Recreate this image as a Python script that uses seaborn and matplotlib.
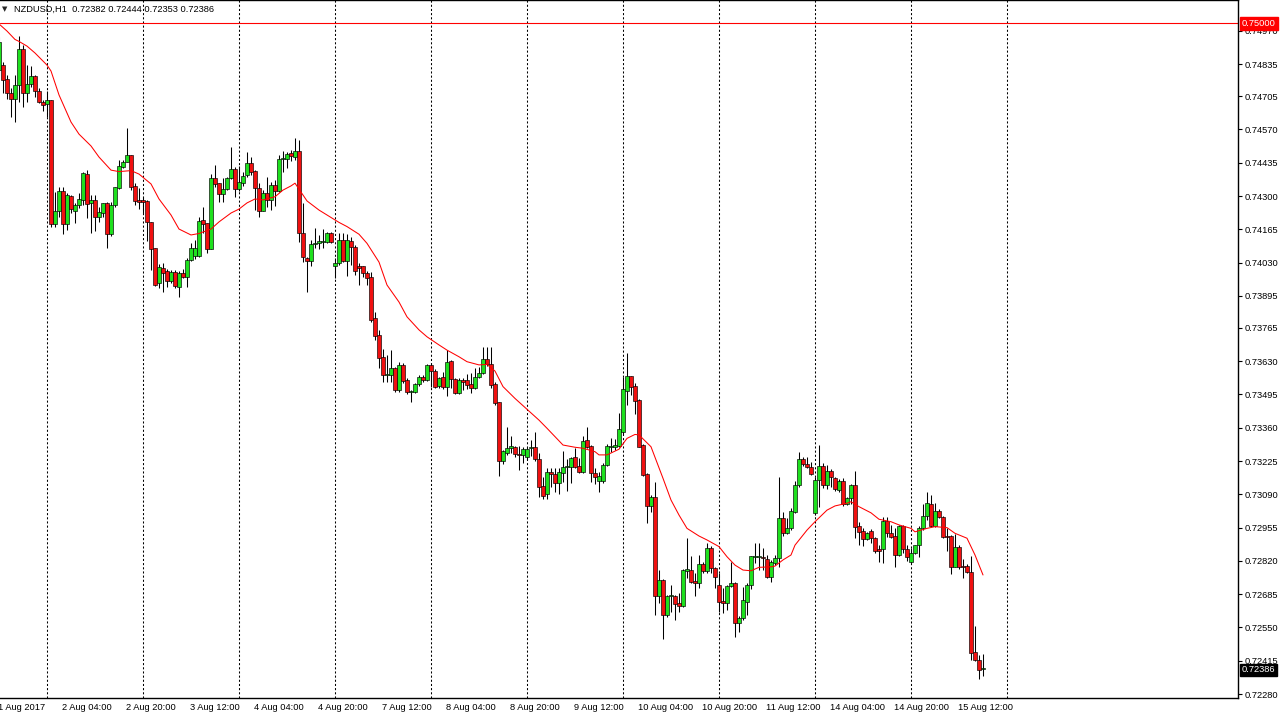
import numpy as np
import pandas as pd
import matplotlib
matplotlib.use("Agg")
import matplotlib.pyplot as plt
import matplotlib.transforms as mtransforms
import seaborn as sns

sns.set_style("white")
plt.rcParams['font.family'] = ['Liberation Sans', 'DejaVu Sans']

# NZDUSD H1 candles, one per bar (left to right)
opens = [
    0.74811, 0.74831, 0.74773, 0.74717, 0.74692, 0.74750, 0.74895, 0.74717, 0.74753, 0.74787,
    0.74727, 0.74681, 0.74672, 0.74689, 0.74186, 0.74240, 0.74319, 0.74186, 0.74300, 0.74240,
    0.74262, 0.74284, 0.74389, 0.74270, 0.74284, 0.74214, 0.74232, 0.74270, 0.74145, 0.74262,
    0.74331, 0.74419, 0.74439, 0.74466, 0.74341, 0.74284, 0.74283, 0.74280, 0.74193, 0.74088,
    0.73946, 0.74007, 0.73997, 0.73956, 0.73991, 0.73932, 0.73986, 0.73970, 0.74040, 0.74057,
    0.74057, 0.74203, 0.74189, 0.74086, 0.74372, 0.74352, 0.74308, 0.74327, 0.74372, 0.74408,
    0.74327, 0.74352, 0.74384, 0.74433, 0.74401, 0.74331, 0.74240, 0.74311, 0.74284, 0.74345,
    0.74320, 0.74449, 0.74450, 0.74474, 0.74459, 0.74483, 0.74149, 0.74047, 0.74038, 0.74104,
    0.74108, 0.74115, 0.74115, 0.74149, 0.74017, 0.74027, 0.74122, 0.74036, 0.74118, 0.74094,
    0.74015, 0.74016, 0.73989, 0.73970, 0.73804, 0.73736, 0.73646, 0.73574, 0.73574, 0.73601,
    0.73513, 0.73615, 0.73554, 0.73504, 0.73504, 0.73536, 0.73565, 0.73554, 0.73615, 0.73590,
    0.73531, 0.73565, 0.73527, 0.73631, 0.73558, 0.73500, 0.73554, 0.73554, 0.73536, 0.73520,
    0.73567, 0.73581, 0.73638, 0.73617, 0.73536, 0.73463, 0.73226, 0.73259, 0.73277, 0.73283,
    0.73254, 0.73250, 0.73240, 0.73277, 0.73281, 0.73232, 0.73124, 0.73091, 0.73179, 0.73172,
    0.73137, 0.73178, 0.73202, 0.73202, 0.73240, 0.73205, 0.73182, 0.73310, 0.73286, 0.73175,
    0.73145, 0.73145, 0.73209, 0.73283, 0.73283, 0.73286, 0.73344, 0.73510, 0.73570, 0.73529,
    0.73473, 0.73290, 0.73172, 0.73044, 0.73080, 0.72678, 0.72743, 0.72601, 0.72678, 0.72678,
    0.72648, 0.72638, 0.72780, 0.72783, 0.72740, 0.72732, 0.72807, 0.72780, 0.72871, 0.72790,
    0.72722, 0.72659, 0.72650, 0.72718, 0.72729, 0.72567, 0.72587, 0.72654, 0.72722, 0.72835,
    0.72835, 0.72837, 0.72826, 0.72753, 0.72813, 0.72831, 0.72993, 0.72932, 0.72952, 0.73020,
    0.73128, 0.73232, 0.73213, 0.73200, 0.73015, 0.73148, 0.73205, 0.73128, 0.73185, 0.73155,
    0.73108, 0.73145, 0.73051, 0.73074, 0.73128, 0.72962, 0.72941, 0.72908, 0.72941, 0.72912,
    0.72868, 0.72867, 0.72983, 0.72932, 0.72921, 0.72844, 0.72962, 0.72867, 0.72814, 0.72851,
    0.72884, 0.72952, 0.73002, 0.73051, 0.72962, 0.73022, 0.72997, 0.72921, 0.72921, 0.72796,
    0.72875, 0.72799, 0.72799, 0.72776, 0.72452, 0.72418, 0.72382,
]
highs = [
    0.74945, 0.74842, 0.74791, 0.74737, 0.74791, 0.74949, 0.74912, 0.74831, 0.74827, 0.74790,
    0.74737, 0.74689, 0.74727, 0.74690, 0.74317, 0.74338, 0.74338, 0.74311, 0.74304, 0.74273,
    0.74311, 0.74399, 0.74405, 0.74304, 0.74304, 0.74257, 0.74273, 0.74277, 0.74277, 0.74338,
    0.74446, 0.74446, 0.74575, 0.74468, 0.74352, 0.74331, 0.74297, 0.74284, 0.74196, 0.74090,
    0.74024, 0.74027, 0.74003, 0.74000, 0.74000, 0.73997, 0.74003, 0.74047, 0.74108, 0.74122,
    0.74216, 0.74254, 0.74192, 0.74389, 0.74426, 0.74354, 0.74372, 0.74378, 0.74498, 0.74419,
    0.74423, 0.74399, 0.74480, 0.74459, 0.74405, 0.74352, 0.74324, 0.74378, 0.74356, 0.74365,
    0.74466, 0.74483, 0.74480, 0.74487, 0.74536, 0.74527, 0.74270, 0.74054, 0.74122, 0.74169,
    0.74142, 0.74166, 0.74155, 0.74153, 0.74047, 0.74149, 0.74149, 0.74145, 0.74135, 0.74101,
    0.74027, 0.74017, 0.73996, 0.73993, 0.73831, 0.73757, 0.73679, 0.73655, 0.73675, 0.73608,
    0.73628, 0.73621, 0.73561, 0.73513, 0.73540, 0.73574, 0.73574, 0.73617, 0.73621, 0.73598,
    0.73567, 0.73587, 0.73675, 0.73635, 0.73563, 0.73561, 0.73563, 0.73577, 0.73581, 0.73601,
    0.73608, 0.73689, 0.73689, 0.73689, 0.73547, 0.73466, 0.73270, 0.73362, 0.73327, 0.73286,
    0.73286, 0.73281, 0.73283, 0.73310, 0.73344, 0.73259, 0.73161, 0.73196, 0.73196, 0.73196,
    0.73196, 0.73266, 0.73232, 0.73243, 0.73277, 0.73236, 0.73327, 0.73362, 0.73290, 0.73196,
    0.73182, 0.73218, 0.73294, 0.73317, 0.73313, 0.73419, 0.73565, 0.73662, 0.73572, 0.73543,
    0.73475, 0.73294, 0.73175, 0.73087, 0.73141, 0.72783, 0.72745, 0.72682, 0.72722, 0.72682,
    0.72689, 0.72786, 0.72912, 0.72840, 0.72770, 0.72844, 0.72817, 0.72891, 0.72880, 0.72796,
    0.72770, 0.72709, 0.72722, 0.72817, 0.72736, 0.72597, 0.72715, 0.72729, 0.72840, 0.72891,
    0.72894, 0.72871, 0.72844, 0.72824, 0.72844, 0.73161, 0.73020, 0.72993, 0.73033, 0.73145,
    0.73263, 0.73243, 0.73240, 0.73222, 0.73161, 0.73290, 0.73216, 0.73209, 0.73191, 0.73159,
    0.73151, 0.73155, 0.73080, 0.73132, 0.73186, 0.72979, 0.72952, 0.72938, 0.72948, 0.72916,
    0.72884, 0.72997, 0.72997, 0.72966, 0.72952, 0.72966, 0.72966, 0.72884, 0.72871, 0.72884,
    0.72962, 0.73051, 0.73101, 0.73087, 0.73054, 0.73029, 0.73002, 0.72952, 0.72925, 0.72929,
    0.72884, 0.72826, 0.72807, 0.72840, 0.72556, 0.72438, 0.72444,
]
lows = [
    0.74791, 0.74717, 0.74692, 0.74619, 0.74601, 0.74683, 0.74660, 0.74683, 0.74743, 0.74703,
    0.74676, 0.74646, 0.74622, 0.74176, 0.74173, 0.74216, 0.74145, 0.74162, 0.74230, 0.74192,
    0.74250, 0.74264, 0.74210, 0.74149, 0.74159, 0.74196, 0.74216, 0.74088, 0.74138, 0.74257,
    0.74327, 0.74412, 0.74437, 0.74324, 0.74264, 0.74246, 0.74230, 0.74119, 0.74000, 0.73935,
    0.73926, 0.73912, 0.73932, 0.73946, 0.73926, 0.73892, 0.73966, 0.73930, 0.74038, 0.74043,
    0.74051, 0.74149, 0.74068, 0.74084, 0.74338, 0.74277, 0.74277, 0.74324, 0.74368, 0.74297,
    0.74322, 0.74341, 0.74378, 0.74385, 0.74243, 0.74216, 0.74239, 0.74257, 0.74243, 0.74261,
    0.74317, 0.74399, 0.74415, 0.74442, 0.74446, 0.74112, 0.74034, 0.73912, 0.74017, 0.74088,
    0.74085, 0.74088, 0.74108, 0.74108, 0.73966, 0.74020, 0.74031, 0.73977, 0.74020, 0.73980,
    0.73939, 0.73973, 0.73939, 0.73788, 0.73716, 0.73604, 0.73547, 0.73544, 0.73547, 0.73506,
    0.73506, 0.73540, 0.73496, 0.73466, 0.73500, 0.73531, 0.73547, 0.73550, 0.73527, 0.73520,
    0.73520, 0.73517, 0.73490, 0.73520, 0.73496, 0.73496, 0.73513, 0.73517, 0.73500, 0.73517,
    0.73561, 0.73577, 0.73612, 0.73520, 0.73452, 0.73164, 0.73213, 0.73250, 0.73256, 0.73240,
    0.73189, 0.73218, 0.73232, 0.73245, 0.73226, 0.73080, 0.73070, 0.73070, 0.73121, 0.73101,
    0.73091, 0.73141, 0.73105, 0.73137, 0.73196, 0.73178, 0.73178, 0.73277, 0.73141, 0.73132,
    0.73101, 0.73137, 0.73205, 0.73263, 0.73270, 0.73281, 0.73335, 0.73452, 0.73493, 0.73416,
    0.73281, 0.73164, 0.72975, 0.73020, 0.72601, 0.72648, 0.72502, 0.72594, 0.72614, 0.72580,
    0.72614, 0.72634, 0.72749, 0.72732, 0.72678, 0.72709, 0.72770, 0.72770, 0.72770, 0.72709,
    0.72614, 0.72610, 0.72621, 0.72713, 0.72510, 0.72533, 0.72580, 0.72601, 0.72705, 0.72810,
    0.72783, 0.72783, 0.72749, 0.72736, 0.72803, 0.72796, 0.72921, 0.72929, 0.72945, 0.73015,
    0.73121, 0.73205, 0.73196, 0.73168, 0.73006, 0.73040, 0.73114, 0.73110, 0.73118, 0.73105,
    0.73101, 0.73043, 0.73047, 0.73051, 0.72912, 0.72884, 0.72880, 0.72905, 0.72891, 0.72853,
    0.72817, 0.72810, 0.72918, 0.72912, 0.72794, 0.72840, 0.72853, 0.72821, 0.72810, 0.72848,
    0.72837, 0.72945, 0.72986, 0.72956, 0.72959, 0.72993, 0.72912, 0.72861, 0.72767, 0.72794,
    0.72786, 0.72749, 0.72772, 0.72418, 0.72415, 0.72340, 0.72353,
]
closes = [
    0.74925, 0.74771, 0.74717, 0.74692, 0.74750, 0.74895, 0.74717, 0.74753, 0.74787, 0.74727,
    0.74683, 0.74668, 0.74689, 0.74186, 0.74240, 0.74322, 0.74186, 0.74304, 0.74246, 0.74264,
    0.74287, 0.74392, 0.74266, 0.74284, 0.74214, 0.74234, 0.74270, 0.74145, 0.74264, 0.74335,
    0.74422, 0.74439, 0.74466, 0.74338, 0.74281, 0.74277, 0.74277, 0.74193, 0.74084, 0.73939,
    0.74011, 0.73986, 0.73956, 0.73991, 0.73935, 0.73986, 0.73970, 0.74040, 0.74088, 0.74088,
    0.74199, 0.74186, 0.74086, 0.74372, 0.74349, 0.74308, 0.74328, 0.74372, 0.74408, 0.74327,
    0.74356, 0.74381, 0.74433, 0.74399, 0.74331, 0.74240, 0.74311, 0.74284, 0.74345, 0.74320,
    0.74450, 0.74453, 0.74472, 0.74462, 0.74483, 0.74149, 0.74051, 0.74038, 0.74105, 0.74111,
    0.74118, 0.74118, 0.74149, 0.74115, 0.74027, 0.74122, 0.74036, 0.74122, 0.74094, 0.73997,
    0.74009, 0.73986, 0.73969, 0.73797, 0.73733, 0.73644, 0.73574, 0.73579, 0.73601, 0.73513,
    0.73615, 0.73550, 0.73504, 0.73509, 0.73536, 0.73565, 0.73554, 0.73615, 0.73590, 0.73527,
    0.73561, 0.73527, 0.73625, 0.73558, 0.73500, 0.73554, 0.73547, 0.73533, 0.73520, 0.73567,
    0.73581, 0.73638, 0.73617, 0.73533, 0.73460, 0.73226, 0.73266, 0.73277, 0.73286, 0.73252,
    0.73251, 0.73273, 0.73273, 0.73281, 0.73232, 0.73121, 0.73084, 0.73179, 0.73171, 0.73137,
    0.73179, 0.73202, 0.73205, 0.73239, 0.73202, 0.73182, 0.73306, 0.73283, 0.73175, 0.73161,
    0.73164, 0.73209, 0.73286, 0.73286, 0.73290, 0.73354, 0.73516, 0.73570, 0.73527, 0.73470,
    0.73283, 0.73168, 0.73044, 0.73080, 0.72678, 0.72743, 0.72601, 0.72678, 0.72682, 0.72645,
    0.72638, 0.72783, 0.72786, 0.72736, 0.72732, 0.72807, 0.72780, 0.72871, 0.72790, 0.72753,
    0.72654, 0.72648, 0.72718, 0.72729, 0.72567, 0.72587, 0.72661, 0.72722, 0.72840, 0.72840,
    0.72840, 0.72831, 0.72756, 0.72817, 0.72833, 0.72993, 0.72932, 0.72952, 0.73024, 0.73128,
    0.73232, 0.73212, 0.73200, 0.73171, 0.73148, 0.73205, 0.73128, 0.73185, 0.73159, 0.73112,
    0.73145, 0.73051, 0.73074, 0.73128, 0.72959, 0.72938, 0.72908, 0.72934, 0.72912, 0.72861,
    0.72861, 0.72983, 0.72932, 0.72918, 0.72844, 0.72962, 0.72867, 0.72835, 0.72851, 0.72884,
    0.72952, 0.73002, 0.73054, 0.72962, 0.73022, 0.72997, 0.72918, 0.72916, 0.72796, 0.72875,
    0.72794, 0.72794, 0.72776, 0.72448, 0.72418, 0.72377, 0.72386,
]

# moving average (red line), read at these bars
ma_bars = [0, 2, 4, 5, 7, 9, 12, 13, 15, 18, 20, 23, 25, 28, 30, 33, 35, 38, 40, 43,
           45, 48, 50, 53, 55, 58, 60, 62, 64, 66, 69, 71, 73, 74, 75, 77, 80, 82, 85, 87,
           90, 92, 95, 97, 100, 102, 105, 107, 110, 112, 115, 117, 120, 122, 124, 126, 129, 132, 135, 137,
           139, 141, 144, 146, 149, 150, 152, 155, 157, 159, 160, 163, 166, 168, 170, 172, 175, 177, 180, 182,
           184, 186, 188, 190, 193, 194, 196, 198, 199, 202, 204, 207, 209, 212, 213, 215, 218, 220, 223, 225,
           228, 229, 232, 234, 237, 239, 242, 244, 246]
ma_values = [0.74998, 0.74969, 0.74935, 0.74927, 0.74908, 0.74880, 0.74831, 0.74807, 0.74710, 0.74600,
             0.74551, 0.74503, 0.74458, 0.74405, 0.74399, 0.74403, 0.74389, 0.74349, 0.74288, 0.74223,
             0.74166, 0.74142, 0.74148, 0.74166, 0.74195, 0.74231, 0.74247, 0.74272, 0.74288, 0.74284,
             0.74297, 0.74324, 0.74341, 0.74352, 0.74328, 0.74280, 0.74243, 0.74223, 0.74193, 0.74176,
             0.74145, 0.74108, 0.74032, 0.73939, 0.73870, 0.73810, 0.73757, 0.73729, 0.73696, 0.73675,
             0.73648, 0.73628, 0.73615, 0.73617, 0.73590, 0.73527, 0.73479, 0.73435, 0.73391, 0.73358,
             0.73324, 0.73290, 0.73281, 0.73277, 0.73263, 0.73250, 0.73250, 0.73273, 0.73317, 0.73333,
             0.73331, 0.73283, 0.73155, 0.73067, 0.73006, 0.72952, 0.72921, 0.72905, 0.72878, 0.72837,
             0.72803, 0.72783, 0.72780, 0.72794, 0.72796, 0.72799, 0.72824, 0.72844, 0.72884, 0.72945,
             0.72979, 0.73026, 0.73043, 0.73054, 0.73060, 0.73040, 0.73015, 0.72989, 0.72979, 0.72966,
             0.72952, 0.72938, 0.72952, 0.72959, 0.72955, 0.72932, 0.72912, 0.72844, 0.72763]

time_labels = ["1 Aug 2017", "2 Aug 04:00", "2 Aug 20:00", "3 Aug 12:00", "4 Aug 04:00",
               "4 Aug 20:00", "7 Aug 12:00", "8 Aug 04:00", "8 Aug 20:00", "9 Aug 12:00",
               "10 Aug 04:00", "10 Aug 20:00", "11 Aug 12:00", "14 Aug 04:00", "14 Aug 20:00",
               "15 Aug 12:00"]
price_ticks = [0.74970, 0.74835, 0.74705, 0.74570, 0.74435, 0.74300, 0.74165, 0.74030,
               0.73895, 0.73765, 0.73630, 0.73495, 0.73360, 0.73225, 0.73090, 0.72955,
               0.72820, 0.72685, 0.72550, 0.72415, 0.72280]
level_price = 0.75000
last_price = 0.72386
header = "NZDUSD,H1  0.72382 0.72444 0.72353 0.72386"

df = pd.DataFrame({'open': opens, 'high': highs, 'low': lows, 'close': closes})
df['bar'] = np.arange(len(df))
up = df['close'] >= df['open']

W, H = 1281, 718
fig = plt.figure(figsize=(W / 100, H / 100), dpi=100)
ax = fig.add_axes([0, 20 / H, 1238 / W, 698 / H])

# daily separators
for b in range(12, 260, 24):
    ax.axvline(b, color='black', lw=0.75, ls=(0, (2, 2)), zorder=1)

ax.axhline(level_price, color='#ff0000', lw=0.8, zorder=2)

# wicks + bodies
ax.vlines(df['bar'], df['low'], df['high'], color='black', lw=0.75, zorder=3)
ax.bar(df.loc[up, 'bar'], (df['close'] - df['open'])[up], bottom=df.loc[up, 'open'],
       width=0.8, color='#1ee01e', edgecolor='black', linewidth=0.45, zorder=4)
ax.bar(df.loc[~up, 'bar'], (df['close'] - df['open'])[~up], bottom=df.loc[~up, 'open'],
       width=0.8, color='#f01010', edgecolor='black', linewidth=0.45, zorder=4)

sns.lineplot(x=ma_bars, y=ma_values, color='#ff0000', lw=0.75, ax=ax,
             estimator=None, sort=False, zorder=5)

ax.set_xlim(0.25, 309.75)
ax.set_ylim(0.72264, 0.75095)
ax.set_xlabel('')
ax.set_ylabel('')

for side in ['top', 'right', 'bottom']:
    ax.spines[side].set_visible(True)
    ax.spines[side].set_color('black')
    ax.spines[side].set_linewidth(1)
ax.spines['left'].set_visible(False)

ax.set_xticks([])
ax.yaxis.tick_right()
ax.set_yticks(price_ticks)
ax.set_yticklabels([f"{v:.5f}" for v in price_ticks])
ax.tick_params(axis='y', right=True, length=3, width=0.8, pad=2, labelsize=6.7,
               colors='black', direction='out')

# time labels under the chart, one every 16 bars
trans = mtransforms.blended_transform_factory(ax.transData, ax.transAxes)
for k, lab in enumerate(time_labels):
    ax.text(16 * k - 0.25, -0.0135, lab, transform=trans, ha='left', va='center',
            fontsize=6.7, color='black', clip_on=False)

# price boxes on the axis (drawn over the tick labels, as in the terminal)
ax.annotate(f"{level_price:.5f}", xy=(1, level_price), xycoords=('axes fraction', 'data'),
            xytext=(4, 0), textcoords='offset pixels', ha='left', va='center',
            fontsize=6.7, color='white', annotation_clip=False, zorder=10,
            bbox=dict(boxstyle='square,pad=0.2', fc='#ff0000', ec='#ff0000'))
ax.annotate(f"{last_price:.5f}", xy=(1, last_price), xycoords=('axes fraction', 'data'),
            xytext=(4, -2), textcoords='offset pixels', ha='left', va='center',
            fontsize=6.7, color='white', annotation_clip=False, zorder=10,
            bbox=dict(boxstyle='square,pad=0.2', fc='black', ec='black'))

# header
fig.text(2 / W, 1 - 9 / H, "\u25bc", fontsize=5, family='DejaVu Sans', va='center', ha='left')
fig.text(14 / W, 1 - 9 / H, header, fontsize=6.7, va='center', ha='left', color='black')

fig.savefig('out.png', dpi=100)
